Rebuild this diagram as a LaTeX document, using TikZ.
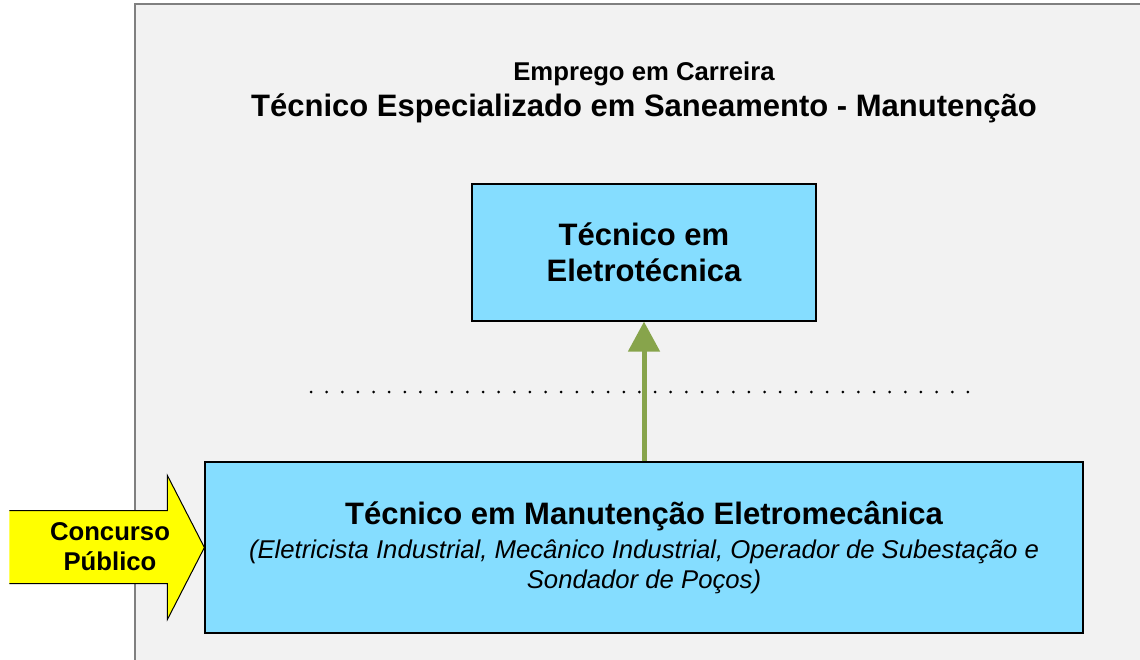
\documentclass[tikz,border=0pt]{standalone}
\usepackage{fontspec}
\setmainfont{Liberation Sans}
\usetikzlibrary{arrows.meta}
\definecolor{framegray}{HTML}{F2F2F2}
\definecolor{boxcyan}{HTML}{85DDFF}
\definecolor{arrowgreen}{HTML}{87A44B}
\definecolor{signyellow}{HTML}{FFFF00}
\begin{document}
\begin{tikzpicture}[x=1pt,y=-1pt,
    bigfont/.style={font=\bfseries\fontsize{31}{36}\selectfont},
    smallfont/.style={font=\bfseries\fontsize{25.7}{30}\selectfont},
    cargobox/.style={draw=black,line width=1.2pt,fill=boxcyan,align=center,inner sep=0pt}]
  \useasboundingbox (0,0) rectangle (1140,660);
  \draw[gray,line width=1.5pt,fill=framegray] (1150,4) -- (135,4) -- (135,670);
  \fill[framegray] (136,5) rectangle (1150,670);
  \draw
    (644,74) node[smallfont] (carreira) {Emprego em Carreira}
    (644,108) node[bigfont] (cargo) {Técnico Especializado em Saneamento - Manutenção};
  \node[cargobox,bigfont,minimum width=344pt,minimum height=137pt] (eletro) at (644,252.5)
    {Técnico em\\Eletrotécnica};
  \node[cargobox,font=\itshape\fontsize{25.7}{30}\selectfont,minimum width=878pt,minimum height=171pt] (base) at (644,547.5)
    {{\upshape\bfseries\fontsize{31}{36}\selectfont Técnico em Manutenção Eletromecânica}\\[4pt]
     (Eletricista Industrial, Mecânico Industrial, Operador de Subestação e\\
     Sondador de Poços)};
  \coordinate (dotsL) at (311,392);
  \coordinate (dotsR) at (975,392);
  \draw[line width=3pt,line cap=round,dash pattern=on 0pt off 15.64pt] (dotsL) -- (dotsR);
  \draw[arrowgreen,line width=5pt,-{Triangle[width=31pt,length=30pt]}] (base.north) -- (eletro.south);
  \begin{scope}[shift={(base.west)}]
    \coordinate (tail top) at (-195,-37);
    \coordinate (head top) at (-37,-37);
    \coordinate (barb top) at (-37,-72);
    \coordinate (barb bottom) at (-37,72);
    \coordinate (head bottom) at (-37,36);
    \coordinate (tail bottom) at (-195,36);
  \end{scope}
  \draw[fill=signyellow,line width=1pt,line join=miter]
    (tail top) -- (head top) -- (barb top) -- (base.west) -- (barb bottom) -- (head bottom) -- (tail bottom);
  \node[smallfont,align=center] (concurso) at (110,547) {Concurso\\Público};
\end{tikzpicture}
\end{document}
